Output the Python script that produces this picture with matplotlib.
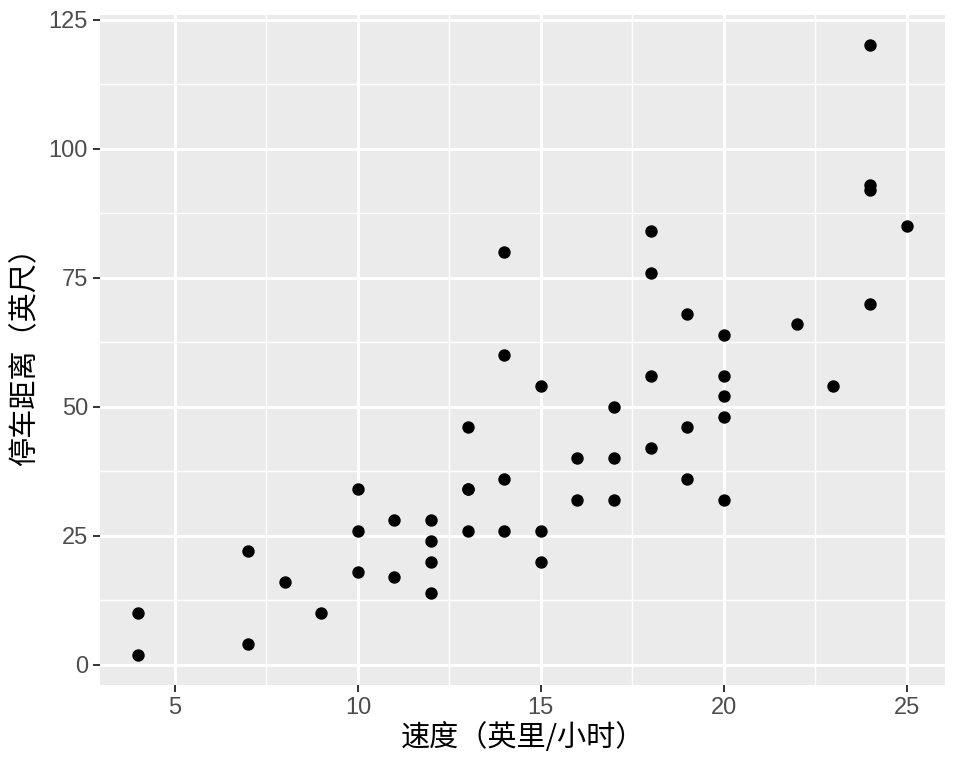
import numpy as np
import matplotlib.pyplot as plt

plt.rcParams['font.family'] = ['Liberation Sans', 'Noto Sans CJK SC', 'DejaVu Sans']

# R "cars" data
speed = [4, 4, 7, 7, 8, 9, 10, 10, 10, 11, 11, 12, 12, 12, 12, 13, 13, 13, 13,
         14, 14, 14, 14, 15, 15, 15, 16, 16, 17, 17, 17, 18, 18, 18, 18, 19,
         19, 19, 20, 20, 20, 20, 20, 22, 23, 24, 24, 24, 24, 25]
dist = [2, 10, 4, 22, 16, 10, 18, 26, 34, 17, 28, 14, 20, 24, 28, 26, 34, 34,
        46, 26, 36, 60, 80, 20, 26, 54, 32, 40, 32, 40, 50, 42, 56, 76, 84, 36,
        46, 68, 32, 48, 52, 56, 64, 66, 54, 70, 92, 93, 120, 85]
x_breaks = [5, 10, 15, 20, 25]
y_breaks = [0, 25, 50, 75, 100, 125]

fig = plt.figure(figsize=(9.6, 7.68), dpi=100)
ax = fig.add_axes([100/960, 1 - 685/768, 845/960, 670/768])
ax.set_facecolor('#EBEBEB')

# ggplot-style 5% expansion
xr = max(speed) - min(speed)
yr = max(dist) - min(dist)
ax.set_xlim(min(speed) - 0.05*xr, max(speed) + 0.05*xr)
ax.set_ylim(min(dist) - 0.05*yr, max(dist) + 0.05*yr)

ax.set_xticks(x_breaks)
ax.set_yticks(y_breaks)
ax.set_xticks([b + 2.5 for b in x_breaks[:-1]], minor=True)
ax.set_yticks([b + 12.5 for b in y_breaks[:-1]], minor=True)
ax.grid(which='major', color='white', linewidth=2.1)
ax.grid(which='minor', color='white', linewidth=1.05)
ax.set_axisbelow(True)
for s in ax.spines.values():
    s.set_visible(False)

ax.tick_params(which='major', length=4.7, width=1.4, color='#333333',
               labelsize=17, labelcolor='#4D4D4D', pad=4)
ax.tick_params(which='minor', length=0)

ax.scatter(speed, dist, s=80, color='black', linewidths=0, zorder=3)

ax.set_xlabel('速度（英里/小时）', fontsize=21, color='black', labelpad=3,
              family=['Noto Sans CJK SC', 'Liberation Sans'])
ax.set_ylabel('停车距离（英尺）', fontsize=21, color='black', labelpad=6,
              family=['Noto Sans CJK SC', 'Liberation Sans'])

fig.savefig('out.png', dpi=100)
